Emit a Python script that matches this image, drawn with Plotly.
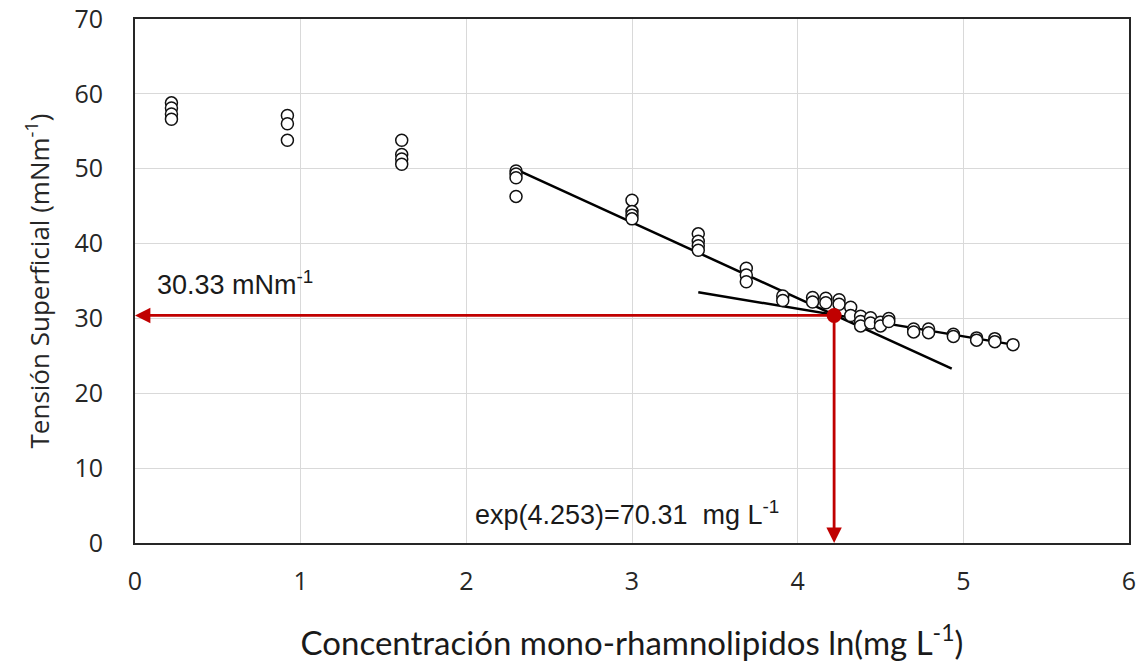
import plotly.graph_objects as go

# measured data: ln(concentration) and surface tension
x_ln = [0.22, 0.22, 0.22, 0.22,
        0.92, 0.92, 0.92,
        1.61, 1.61, 1.61, 1.61,
        2.30, 2.30, 2.30, 2.30,
        3.00, 3.00, 3.00, 3.00,
        3.40, 3.40, 3.40, 3.40,
        3.69, 3.69, 3.69,
        3.91, 3.91,
        4.09, 4.09,
        4.17, 4.17,
        4.25, 4.25,
        4.32, 4.32,
        4.38, 4.38, 4.38,
        4.44, 4.44,
        4.50, 4.50,
        4.55, 4.55,
        4.70, 4.70,
        4.79, 4.79,
        4.94, 4.94,
        5.08, 5.08,
        5.19, 5.19,
        5.30]
tension = [58.8, 58.1, 57.3, 56.6,
           57.1, 56.0, 53.8,
           53.8, 51.9, 51.3, 50.6,
           49.7, 49.3, 48.8, 46.3,
           45.8, 44.3, 43.8, 43.3,
           41.3, 40.3, 39.7, 39.1,
           36.7, 35.8, 34.9,
           33.0, 32.4,
           32.8, 32.2,
           32.7, 32.1,
           32.5, 31.9,
           31.5, 30.4,
           30.3, 29.6, 29.0,
           30.1, 29.4,
           29.5, 29.0,
           30.0, 29.6,
           28.6, 28.2,
           28.6, 28.1,
           27.9, 27.6,
           27.4, 27.1,
           27.3, 26.9,
           26.5]

# fitted lines (endpoints)
fit1_x = [2.30, 4.93]
fit1_y = [49.9, 23.3]
fit2_x = [3.40, 5.30]
fit2_y = [33.5, 26.5]

# CMC point (as drawn on the chart)
cmc_x = 4.22
cmc_y = 30.4

RED = "#C00000"

fig = go.Figure()
fig.add_trace(go.Scatter(x=fit1_x, y=fit1_y, mode="lines",
                         line=dict(color="black", width=2.5), showlegend=False))
fig.add_trace(go.Scatter(x=fit2_x, y=fit2_y, mode="lines",
                         line=dict(color="black", width=2.5), showlegend=False))
fig.add_trace(go.Scatter(x=x_ln, y=tension, mode="markers",
                         marker=dict(symbol="circle", size=12, color="white",
                                     line=dict(color="#111111", width=1.5)),
                         showlegend=False))

# red arrows
fig.add_annotation(x=0, y=cmc_y, ax=cmc_x, ay=cmc_y, xref="x", yref="y",
                   axref="x", ayref="y", showarrow=True, arrowhead=2,
                   arrowsize=1.1, arrowwidth=2.8, arrowcolor=RED, text="")
fig.add_annotation(x=cmc_x, y=0, ax=cmc_x, ay=cmc_y, xref="x", yref="y",
                   axref="x", ayref="y", showarrow=True, arrowhead=2,
                   arrowsize=1.1, arrowwidth=2.8, arrowcolor=RED, text="")
fig.add_trace(go.Scatter(x=[cmc_x], y=[cmc_y], mode="markers",
                         marker=dict(size=15, color=RED), showlegend=False))

fig.add_annotation(x=0.12, y=34.7, xref="x", yref="y", showarrow=False,
                   xanchor="left", yanchor="middle",
                   text="30.33 mNm<sup>-1</sup>",
                   font=dict(family="Liberation Sans", size=27, color="#1a1a1a"))
fig.add_annotation(x=2.04, y=4.0, xref="x", yref="y", showarrow=False,
                   xanchor="left", yanchor="middle",
                   text="exp(4.253)=70.31  mg L<sup>-1</sup>",
                   font=dict(family="Liberation Sans", size=27, color="#1a1a1a"))

fig.update_xaxes(range=[0, 6], dtick=1, tick0=0, showgrid=True,
                 gridcolor="#d9d9d9", gridwidth=1, zeroline=False,
                 showline=True, linecolor="#262626", linewidth=2, mirror=True,
                 ticks="", ticklabelstandoff=15, automargin=False,
                 tickfont=dict(family="Open Sans", size=25, color="#262626"),
                 title=dict(text="Concentración mono-rhamnolipidos ln(mg L<sup>-1</sup>)",
                            font=dict(family="Lato", size=33, color="#1a1a1a"),
                            standoff=36))
fig.update_yaxes(range=[0, 70], dtick=10, tick0=0, showgrid=True,
                 gridcolor="#d9d9d9", gridwidth=1, zeroline=False,
                 showline=True, linecolor="#262626", linewidth=2, mirror=True,
                 ticks="", ticklabelstandoff=25, automargin=False,
                 tickfont=dict(family="Open Sans", size=25, color="#262626"),
                 title=dict(text="Tensión Superficial (mNm<sup>-1</sup>)",
                            font=dict(family="Open Sans", size=26, color="#262626"),
                            standoff=17))

fig.update_layout(width=1147, height=669,
                  margin=dict(l=135, r=18, t=19, b=126),
                  plot_bgcolor="white", paper_bgcolor="white")

fig.write_html("out.html")
